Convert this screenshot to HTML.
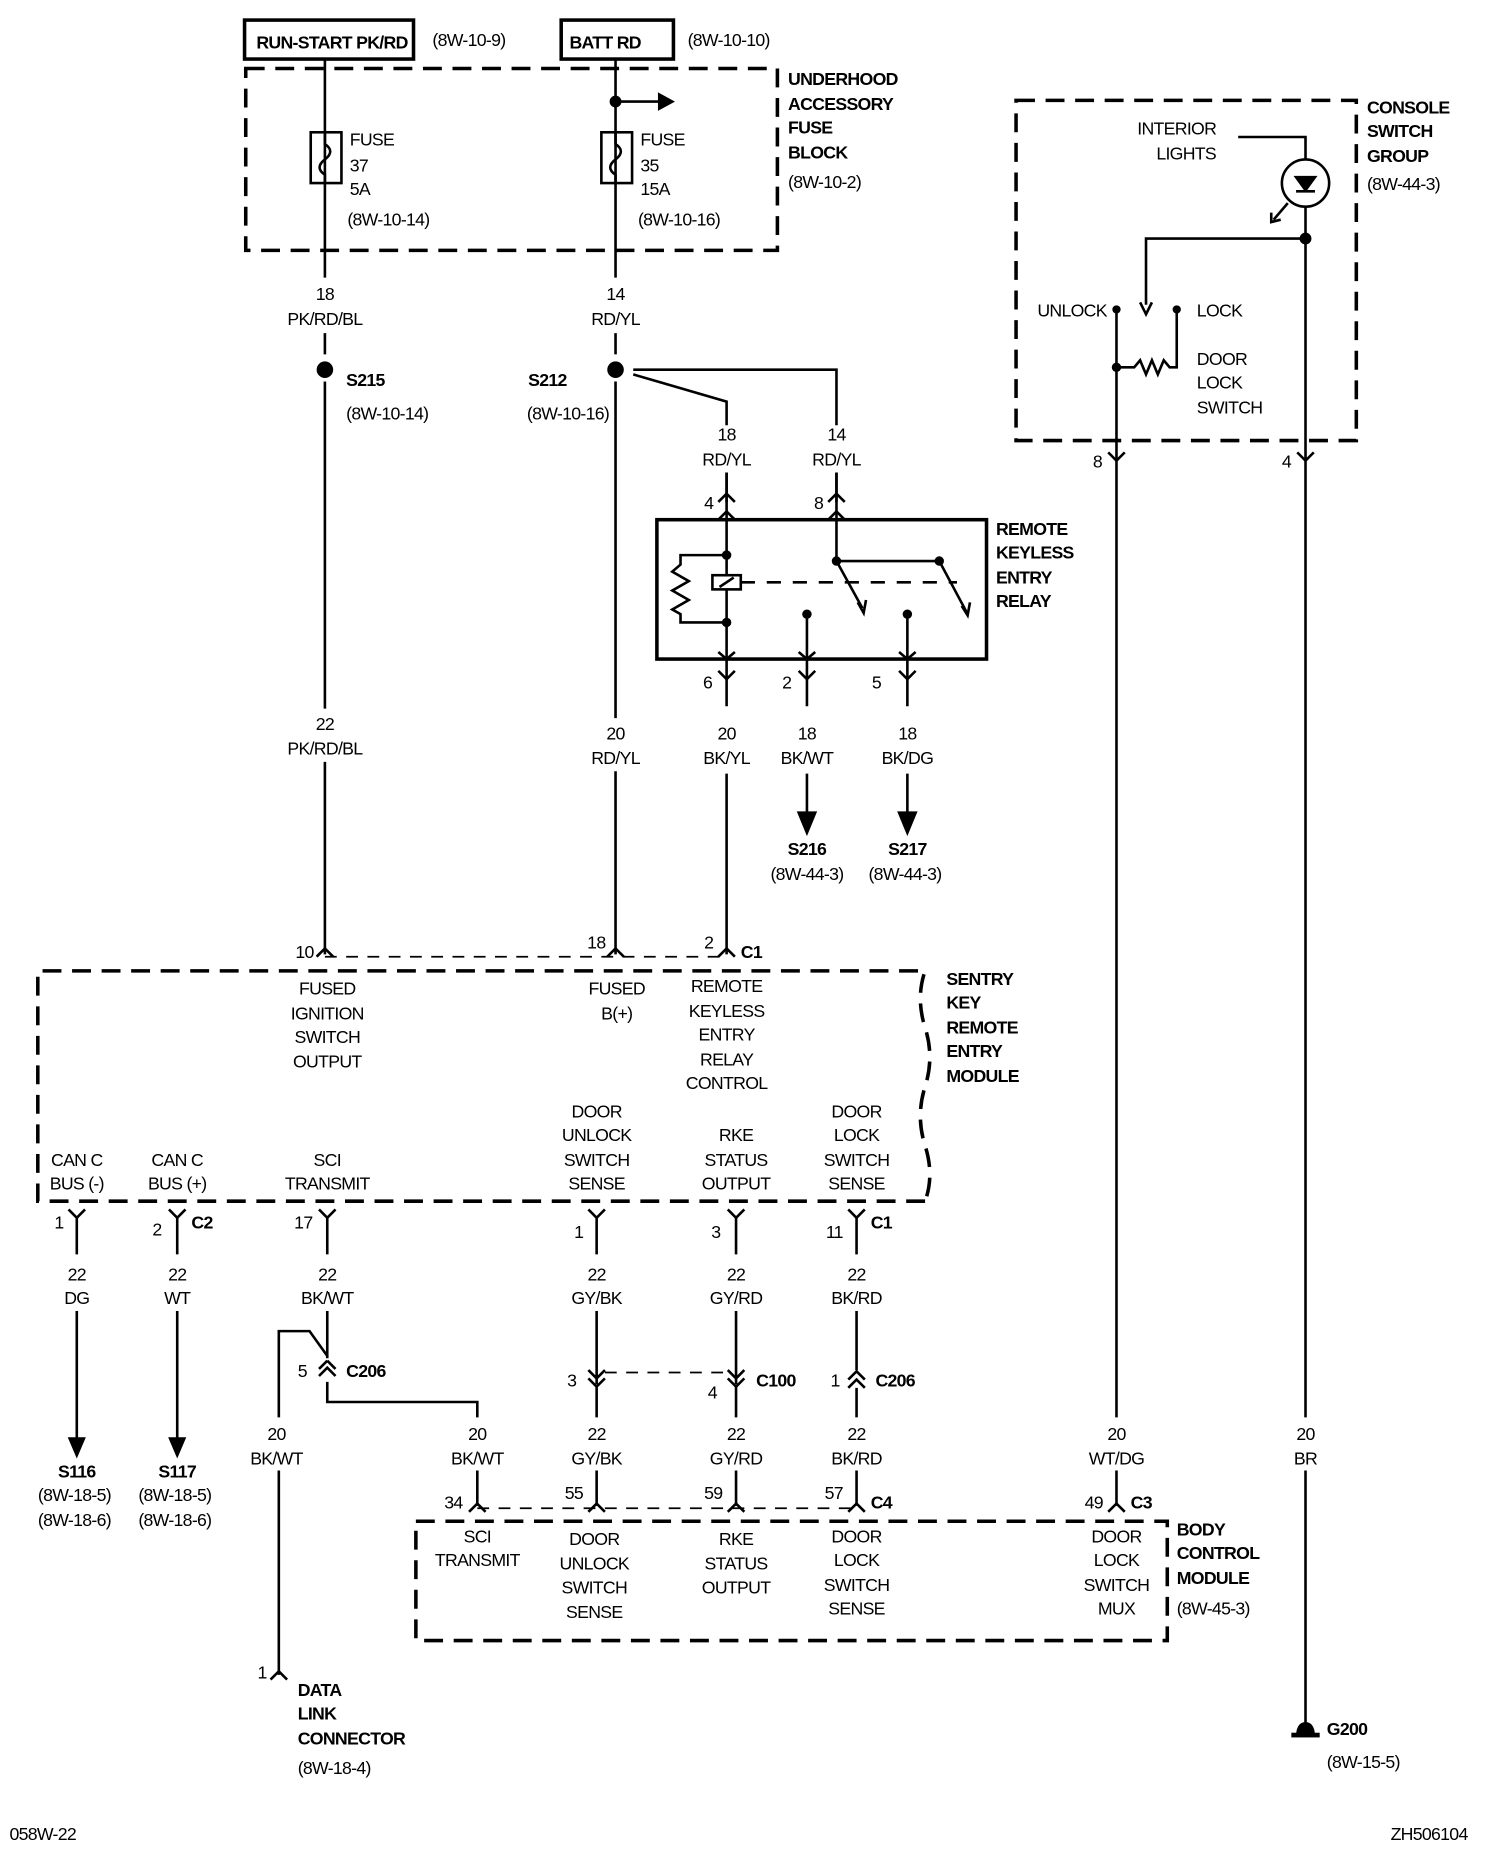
<!DOCTYPE html><html><head><style>html,body{margin:0;padding:0;background:#fff}svg{display:block}
text{font-family:"Liberation Sans",sans-serif;font-size:15px;fill:#000;letter-spacing:-0.6px}
.b{font-weight:bold}.m{text-anchor:middle}</style></head><body>
<svg width="1504" height="1852" viewBox="0 0 1273 1568" preserveAspectRatio="none" xmlns="http://www.w3.org/2000/svg">
<g fill="none" stroke="#000" stroke-width="2.2">
<rect x="207" y="17" width="143" height="33" stroke-width="3"/>
<rect x="475" y="17" width="95" height="33" stroke-width="3"/>
<g stroke-dasharray="16,9" stroke-width="3">
<rect x="208" y="58" width="450" height="154"/>
<rect x="860" y="85" width="288" height="288"/>
<rect x="352" y="1288" width="636" height="101"/>
<path d="M783 1017 H32 V822 H783 Q775 845 783 870 Q791 895 783 920 Q775 945 783 970 Q791 995 783 1017"/>
<path d="M275 810 H615 M404 1277 H725 M512 1162 H616" stroke-width="1.5" stroke-dasharray="10,8"/>
</g>
<path d="M275 50 V235 M521 50 V235 M275 282 V300 M521 282 V300 M275 323 V600 M275 645 V808 M521 323 V608 M521 653 V808"/>
<rect x="263" y="112" width="26" height="43"/><path d="M275 112 V122 Q284 128 275 135 Q266 142 275 148 V155"/>
<rect x="509" y="112" width="26" height="43"/><path d="M521 112 V122 Q530 128 521 135 Q512 142 521 148 V155"/>
<path d="M521 86 H558"/><path d="M558 80 L569 86 L558 92Z" fill="#000"/>
<path d="M536 317 L615 340 V360 M536 313 H708 V360 M615 400 V575 M708 400 V475"/>
<rect x="556" y="440" width="279" height="118" stroke-width="3"/>
<path d="M615 470 H576 V478 L569 484 L583 492 L569 500 L583 508 L569 516 L576 520 V527 H615"/>
<rect x="603" y="487" width="24" height="12" fill="#fff"/><path d="M609 497 L621 489"/>
<path d="M627 493 H810" stroke-dasharray="12,10"/>
<path d="M708 475 H795 M708 475 L730 515 M795 475 L818 518 M683 520 V575 M768 520 V575"/>
<path d="M726 510 L731 519 L733 508 M814 513 L819 521 L821 510"/>
<path d="M608 440 L615 433 L622 440 M701 440 L708 433 L715 440 M608 552 L615 558 L622 552 M676 552 L683 558 L690 552 M761 552 L768 558 L775 552"/>
<path d="M608 425 L615 418 L622 425 M701 425 L708 418 L715 425"/>
<path d="M608 568 L615 575 L622 568 M676 568 L683 575 L690 568 M761 568 L768 575 L775 568"/>
<path d="M615 575 V598 M683 575 V598 M768 575 V598 M615 655 V808 M683 655 V688 M768 655 V688"/>
<path d="M676 688 L683 705 L690 688Z M761 688 L768 705 L775 688Z" fill="#000"/>
<path d="M615 400 V425 M708 400 V425"/>
<path d="M268 810 L275 803 L282 810 M514 810 L521 803 L528 810 M608 810 L615 803 L622 810"/>
<path d="M58 1024 L65 1031 L72 1024 M143 1024 L150 1031 L157 1024 M270 1024 L277 1031 L284 1024 M498 1024 L505 1031 L512 1024 M616 1024 L623 1031 L630 1024 M718 1024 L725 1031 L732 1024"/>
<path d="M65 1031 V1062 M150 1031 V1062 M277 1031 V1062 M505 1031 V1062 M623 1031 V1062 M725 1031 V1062"/>
<path d="M65 1110 V1218 M150 1110 V1218"/>
<path d="M59 1218 L65 1232 L71 1218Z M144 1218 L150 1232 L156 1218Z" fill="#000"/>
<path d="M277 1110 V1150 M236 1200 V1127 H262 L277 1148 M277 1170 V1187 H404 V1200 M277 1152 L270 1159 M277 1152 L284 1159 M270 1165 L277 1158 L284 1165"/>
<path d="M505 1110 V1172 M498 1160 L505 1167 L512 1160 M498 1167 L505 1174 L512 1167 M623 1110 V1172 M616 1160 L623 1167 L630 1160 M616 1167 L623 1174 L630 1167 M725 1110 V1160 M718 1168 L725 1161 L732 1168 M718 1175 L725 1168 L732 1175"/>
<path d="M505 1174 V1200 M623 1174 V1200 M725 1175 V1200 M505 1245 V1275 M623 1245 V1275 M725 1245 V1275 M404 1245 V1275 M945 1245 V1275 M236 1245 V1418"/>
<path d="M397 1280 L404 1273 L411 1280 M498 1280 L505 1273 L512 1280 M616 1280 L623 1273 L630 1280 M718 1280 L725 1273 L732 1280 M938 1280 L945 1273 L952 1280 M229 1422 L236 1415 L243 1422"/>
<path d="M1048 116 H1105 V135 M1105 175 V1200 M1105 202 H970 V258 M945 262 V1200 M996 262 V311 H990 L985 305 L980 317 L975 305 L970 317 L965 305 L960 311 H945"/>
<path d="M965 256 L970 266 L975 256"/>
<circle cx="1105" cy="155" r="20"/>
<path d="M1097 150 H1113 L1105 161Z" fill="#000"/><path d="M1097 162 H1113 M1090 172 L1078 186"/>
<path d="M1076 180 L1076 188 L1084 186" />
<path d="M938 383 L945 390 L952 383 M1098 383 L1105 390 L1112 383"/>
<path d="M1105 1245 V1460"/>
</g>
<g fill="#000">
<circle cx="275" cy="313" r="7"/><circle cx="521" cy="313" r="7"/><circle cx="521" cy="86" r="5"/>
<circle cx="615" cy="470" r="4"/><circle cx="615" cy="527" r="4"/><circle cx="708" cy="475" r="4"/><circle cx="795" cy="475" r="4"/>
<circle cx="683" cy="520" r="4"/><circle cx="768" cy="520" r="4"/>
<circle cx="1105" cy="202" r="5"/><circle cx="945" cy="262" r="3.5"/><circle cx="996" cy="262" r="3.5"/><circle cx="945" cy="311" r="4"/>
<path d="M1097 1468 Q1098 1458 1105 1458 Q1112 1458 1113 1468 Z"/><rect x="1093" y="1467" width="24" height="4"/>
</g>
<text x="281" y="41" class="b m">RUN-START PK/RD</text><text x="366" y="39">(8W-10-9)</text>
<text x="482" y="41" class="b">BATT RD</text><text x="582" y="39">(8W-10-10)</text>
<text x="667" y="72" class="b">UNDERHOOD</text><text x="667" y="93" class="b">ACCESSORY</text><text x="667" y="113" class="b">FUSE</text><text x="667" y="134" class="b">BLOCK</text>
<text x="667" y="159">(8W-10-2)</text>
<text x="296" y="123">FUSE</text><text x="296" y="145">37</text><text x="296" y="165">5A</text><text x="294" y="191">(8W-10-14)</text>
<text x="542" y="123">FUSE</text><text x="542" y="145">35</text><text x="542" y="165">15A</text><text x="540" y="191">(8W-10-16)</text>
<text x="275" y="254" class="m">18</text><text x="275" y="275" class="m">PK/RD/BL</text><text x="521" y="254" class="m">14</text><text x="521" y="275" class="m">RD/YL</text>
<text x="615" y="373" class="m">18</text><text x="615" y="394" class="m">RD/YL</text><text x="708" y="373" class="m">14</text><text x="708" y="394" class="m">RD/YL</text>
<text x="293" y="327" class="b">S215</text><text x="293" y="355">(8W-10-14)</text>
<text x="447" y="327" class="b">S212</text><text x="446" y="355">(8W-10-16)</text>
<text x="596" y="431">4</text><text x="689" y="431">8</text>
<text x="595" y="583">6</text><text x="662" y="583">2</text><text x="738" y="583">5</text>
<text x="843" y="453" class="b">REMOTE</text><text x="843" y="473" class="b">KEYLESS</text><text x="843" y="494" class="b">ENTRY</text><text x="843" y="514" class="b">RELAY</text>
<text x="275" y="618" class="m">22</text><text x="275" y="639" class="m">PK/RD/BL</text>
<text x="521" y="626" class="m">20</text><text x="521" y="647" class="m">RD/YL</text>
<text x="615" y="626" class="m">20</text><text x="615" y="647" class="m">BK/YL</text>
<text x="683" y="626" class="m">18</text><text x="683" y="647" class="m">BK/WT</text>
<text x="768" y="626" class="m">18</text><text x="768" y="647" class="m">BK/DG</text>
<text x="683" y="724" class="b m">S216</text><text x="683" y="745" class="m">(8W-44-3)</text>
<text x="768" y="724" class="b m">S217</text><text x="766" y="745" class="m">(8W-44-3)</text>
<text x="250" y="811">10</text><text x="497" y="803">18</text><text x="596" y="803">2</text><text x="627" y="811" class="b">C1</text>
<text x="277" y="842" class="m">FUSED</text><text x="277" y="863" class="m">IGNITION</text><text x="277" y="883" class="m">SWITCH</text><text x="277" y="904" class="m">OUTPUT</text>
<text x="522" y="842" class="m">FUSED</text><text x="522" y="863" class="m">B(+)</text>
<text x="615" y="840" class="m">REMOTE</text><text x="615" y="861" class="m">KEYLESS</text><text x="615" y="881" class="m">ENTRY</text><text x="615" y="902" class="m">RELAY</text><text x="615" y="922" class="m">CONTROL</text>
<text x="65" y="987" class="m">CAN C</text><text x="65" y="1007" class="m">BUS (-)</text>
<text x="150" y="987" class="m">CAN C</text><text x="150" y="1007" class="m">BUS (+)</text>
<text x="277" y="987" class="m">SCI</text><text x="277" y="1007" class="m">TRANSMIT</text>
<text x="505" y="946" class="m">DOOR</text><text x="505" y="966" class="m">UNLOCK</text><text x="505" y="987" class="m">SWITCH</text><text x="505" y="1007" class="m">SENSE</text>
<text x="623" y="966" class="m">RKE</text><text x="623" y="987" class="m">STATUS</text><text x="623" y="1007" class="m">OUTPUT</text>
<text x="725" y="946" class="m">DOOR</text><text x="725" y="966" class="m">LOCK</text><text x="725" y="987" class="m">SWITCH</text><text x="725" y="1007" class="m">SENSE</text>
<text x="801" y="834" class="b">SENTRY</text><text x="801" y="854" class="b">KEY</text><text x="801" y="875" class="b">REMOTE</text><text x="801" y="895" class="b">ENTRY</text><text x="801" y="916" class="b">MODULE</text>
<text x="46" y="1040">1</text><text x="129" y="1046">2</text><text x="162" y="1040" class="b">C2</text><text x="249" y="1040">17</text>
<text x="486" y="1048">1</text><text x="602" y="1048">3</text><text x="699" y="1048">11</text><text x="737" y="1040" class="b">C1</text>
<text x="65" y="1084" class="m">22</text><text x="65" y="1104" class="m">DG</text><text x="150" y="1084" class="m">22</text><text x="150" y="1104" class="m">WT</text>
<text x="277" y="1084" class="m">22</text><text x="277" y="1104" class="m">BK/WT</text><text x="505" y="1084" class="m">22</text><text x="505" y="1104" class="m">GY/BK</text>
<text x="623" y="1084" class="m">22</text><text x="623" y="1104" class="m">GY/RD</text><text x="725" y="1084" class="m">22</text><text x="725" y="1104" class="m">BK/RD</text>
<text x="252" y="1166">5</text><text x="293" y="1166" class="b">C206</text>
<text x="480" y="1174">3</text><text x="599" y="1184">4</text><text x="640" y="1174" class="b">C100</text>
<text x="703" y="1174">1</text><text x="741" y="1174" class="b">C206</text>
<text x="65" y="1251" class="b m">S116</text><text x="63" y="1271" class="m">(8W-18-5)</text><text x="63" y="1292" class="m">(8W-18-6)</text>
<text x="150" y="1251" class="b m">S117</text><text x="148" y="1271" class="m">(8W-18-5)</text><text x="148" y="1292" class="m">(8W-18-6)</text>
<text x="234" y="1219" class="m">20</text><text x="234" y="1240" class="m">BK/WT</text>
<text x="404" y="1219" class="m">20</text><text x="404" y="1240" class="m">BK/WT</text>
<text x="505" y="1219" class="m">22</text><text x="505" y="1240" class="m">GY/BK</text>
<text x="623" y="1219" class="m">22</text><text x="623" y="1240" class="m">GY/RD</text>
<text x="725" y="1219" class="m">22</text><text x="725" y="1240" class="m">BK/RD</text>
<text x="945" y="1219" class="m">20</text><text x="945" y="1240" class="m">WT/DG</text>
<text x="1105" y="1219" class="m">20</text><text x="1105" y="1240" class="m">BR</text>
<text x="376" y="1277">34</text><text x="478" y="1269">55</text><text x="596" y="1269">59</text><text x="698" y="1269">57</text><text x="737" y="1277" class="b">C4</text>
<text x="918" y="1277">49</text><text x="957" y="1277" class="b">C3</text>
<text x="404" y="1306" class="m">SCI</text><text x="404" y="1326" class="m">TRANSMIT</text>
<text x="503" y="1308" class="m">DOOR</text><text x="503" y="1329" class="m">UNLOCK</text><text x="503" y="1349" class="m">SWITCH</text><text x="503" y="1370" class="m">SENSE</text>
<text x="623" y="1308" class="m">RKE</text><text x="623" y="1329" class="m">STATUS</text><text x="623" y="1349" class="m">OUTPUT</text>
<text x="725" y="1306" class="m">DOOR</text><text x="725" y="1326" class="m">LOCK</text><text x="725" y="1347" class="m">SWITCH</text><text x="725" y="1367" class="m">SENSE</text>
<text x="945" y="1306" class="m">DOOR</text><text x="945" y="1326" class="m">LOCK</text><text x="945" y="1347" class="m">SWITCH</text><text x="945" y="1367" class="m">MUX</text>
<text x="996" y="1300" class="b">BODY</text><text x="996" y="1320" class="b">CONTROL</text><text x="996" y="1341" class="b">MODULE</text><text x="996" y="1367">(8W-45-3)</text>
<text x="218" y="1421">1</text><text x="252" y="1436" class="b">DATA</text><text x="252" y="1456" class="b">LINK</text><text x="252" y="1477" class="b">CONNECTOR</text><text x="252" y="1502">(8W-18-4)</text>
<text x="1123" y="1469" class="b">G200</text><text x="1123" y="1497">(8W-15-5)</text>
<text x="1157" y="96" class="b">CONSOLE</text><text x="1157" y="116" class="b">SWITCH</text><text x="1157" y="137" class="b">GROUP</text><text x="1157" y="161">(8W-44-3)</text>
<text x="996" y="114" class="m">INTERIOR</text><text x="1004" y="135" class="m">LIGHTS</text>
<text x="878" y="268">UNLOCK</text><text x="1013" y="268">LOCK</text>
<text x="1013" y="309">DOOR</text><text x="1013" y="329">LOCK</text><text x="1013" y="350">SWITCH</text>
<text x="925" y="396">8</text><text x="1085" y="396">4</text>
<text x="8" y="1558">058W-22</text><text x="1177" y="1558">ZH506104</text>
</svg></body></html>
